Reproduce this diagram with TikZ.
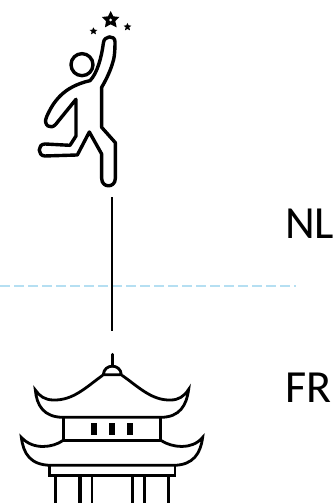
\documentclass[tikz,border=0pt]{standalone}
\usepackage{fontspec}
\setmainfont{Carlito}
\definecolor{dashblue}{HTML}{B5DFF2}
\tikzset{
  icon/.style={line width=3.4pt,black,line join=round,line cap=round,fill=none},
  iconthin/.style={line width=2.8pt,black,line join=miter,line cap=butt},
  lbl/.style={inner sep=0pt,anchor=base west,font=\fontsize{46}{46}\selectfont,text=black},
  conn/.style={line width=1.1pt,black},
  divider/.style={line width=1.2pt,dashblue,dash pattern=on 9.5pt off 4.5pt}
}
\begin{document}
\begin{tikzpicture}[x=1pt,y=-1pt]
\useasboundingbox (0,0) rectangle (334,503);
\clip (0,0) rectangle (334,503);
\coordinate (divL) at (0,286);
\coordinate (divR) at (296,286);
\draw[divider] (divL) -- (divR);
\coordinate (personFoot) at (112,197);
\coordinate (templeTop) at (112,331);
\draw[conn] (personFoot) -- (templeTop);
\node[lbl] (nl) at (285,238.5) {NL};
\node[lbl] (fr) at (285,402) {FR};
% person
\begin{scope}[shift={(20,0)},x=0.3333pt,y=-0.3333pt]
\draw[icon] (285,125)
  .. controls (285,150) and (284,175) .. (276,195)
  .. controls (268,220) and (255,245) .. (245,262)
  -- (245,382) -- (286,428) -- (286,535)
  .. controls (286,565) and (245,565) .. (245,535)
  -- (245,462) -- (208,396) -- (172,465)
  -- (75,468)
  .. controls (52,468) and (52,432) .. (75,432)
  -- (150,436) -- (168,408) -- (168,298)
  -- (108,372)
  .. controls (92,392) and (68,375) .. (80,350)
  .. controls (100,305) and (130,260) .. (210,242)
  .. controls (232,220) and (245,170) .. (250,130)
  .. controls (252,105) and (285,105) .. (285,125) -- cycle;
\draw[icon] (186,194) circle[radius=33];
\fill (272,33) -- (280,49) -- (298,51) -- (286,63) -- (290,82) -- (272,73) -- (255,82) -- (258,63) -- (246,51) -- (264,49) -- cycle;
\fill[white] (272,60) circle[radius=4.5];
\fill (220,82) -- (224,89) -- (232,90) -- (226,95) -- (228,103) -- (220,99) -- (213,103) -- (215,95) -- (209,90) -- (217,89) -- cycle;
\fill (322,69) -- (326,76) -- (334,77) -- (328,82) -- (330,91) -- (322,87) -- (315,91) -- (317,82) -- (311,77) -- (319,76) -- cycle;
\end{scope}
% temple
\begin{scope}[shift={(10,340)},x=0.3333pt,y=-0.3333pt]
\begin{scope}[iconthin]
\draw[line width=3pt,line cap=round] (307,43) -- (307,78);
\draw (280,104) .. controls (282,70) and (332,70) .. (334,104) -- cycle;
\draw (278,106) .. controls (230,140) and (190,182) .. (130,180)
  .. controls (105,180) and (88,168) .. (76,150)
  .. controls (80,195) and (100,232) .. (160,232)
  -- (452,232)
  .. controls (510,232) and (530,195) .. (536,148)
  .. controls (522,170) and (505,180) .. (482,180)
  .. controls (425,182) and (385,140) .. (336,106);
\draw (161,232) -- (161,302);
\draw (451,232) -- (451,302);
\draw (160,302) -- (452,302);
\draw (158,302) .. controls (130,322) and (70,332) .. (34,292)
  .. controls (40,340) and (60,376) .. (125,376)
  -- (490,376)
  .. controls (550,376) and (572,340) .. (578,292)
  .. controls (545,332) and (485,322) .. (454,302);
\draw (118,378) -- (118,406) -- (495,406) -- (495,378);
\draw (137,406) -- (137,490);
\draw[line width=3.6pt] (210,406) -- (210,490);
\draw (246,406) -- (246,490);
\draw (367,406) -- (367,490);
\draw (403,406) -- (403,490);
\draw (476,406) -- (476,490);
\end{scope}
\fill (244,249) rectangle (262,285);
\fill (298,249) rectangle (316,285);
\fill (352,249) rectangle (370,285);
\end{scope}
\end{tikzpicture}
\end{document}
